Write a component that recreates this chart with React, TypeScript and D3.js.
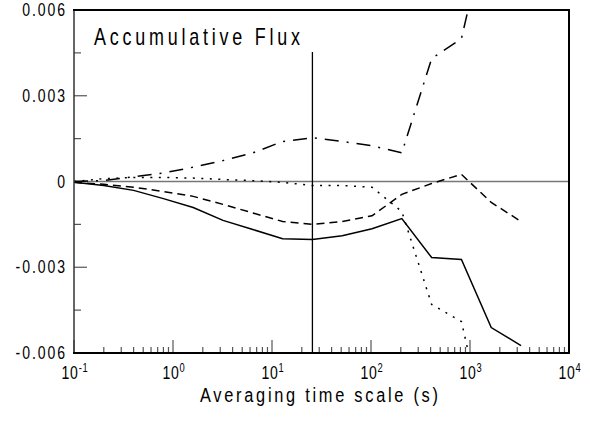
import React, { useEffect, useRef } from 'react';
import * as d3 from 'd3';

// averaging time scales (s), doubling from 0.1 s
const timeScales = [0.1, 0.2, 0.4, 0.8, 1.6, 3.2, 6.4, 12.8, 25.6, 51.2, 102.4, 204.8, 409.6, 819.2, 1638.4, 3276.8];

const solidFlux = [-0.00003, -0.00014, -0.00031, -0.0006, -0.00091, -0.00136, -0.00168, -0.002, -0.00203, -0.0019, -0.00165, -0.0013, -0.00266, -0.00273, -0.00511, -0.00574];
const dashedFlux = [-0.00003, -0.0001, -0.0002, -0.00035, -0.00052, -0.0008, -0.0011, -0.0014, -0.0015, -0.0014, -0.0012, -0.00045, -0.00007, 0.00025, -0.00073, -0.0014];
const dottedFlux = [0, 0.0001, 0.00014, 0.00014, 0.00012, 0.00007, 0.00003, -0.00003, -0.00014, -0.00014, -0.0002, -0.00105, -0.0043, -0.0049, -0.0095];
const dashDotFlux = [0, 0.00003, 0.00017, 0.0003, 0.0005, 0.00073, 0.001, 0.0014, 0.00153, 0.0014, 0.00125, 0.001, 0.0043, 0.005, 0.0095];

const yTicks = [0.006, 0.003, 0, -0.003, -0.006];
const yTickLabels = ['0.006', '0.003', '0', '-0.003', '-0.006'];
const xDecades = [-1, 0, 1, 2, 3, 4];
const markerTime = 25.6;

const FONT = "'Liberation Sans', Arial, sans-serif";
const SQUEEZE = 0.78; // the original font is tall and narrow

export default function App() {
  const ref = useRef<SVGSVGElement>(null);

  useEffect(() => {
    const svg = d3.select(ref.current);
    svg.selectAll('*').remove();

    const x = d3.scaleLog().domain([0.1, 1e4]).range([74, 569]);
    const y = d3.scaleLinear().domain([-0.006, 0.006]).range([353, 10]);

    // narrow text: drawn in a horizontally squeezed group
    const label = (px: number, py: number, size: number, anchor: string, spacing = 0) =>
      svg.append('g').attr('transform', `translate(${px},${py}) scale(${SQUEEZE},1)`)
        .append('text').attr('text-anchor', anchor).attr('font-family', FONT)
        .attr('font-size', size).attr('letter-spacing', spacing).attr('fill', '#000');

    svg.append('defs').append('clipPath').attr('id', 'plotClip')
      .append('rect').attr('x', 74).attr('y', 10).attr('width', 495).attr('height', 343);

    // minor / major ticks on x (pointing up from bottom)
    const xt = svg.append('g');
    for (let d = -1; d < 4; d++) {
      for (let m = 2; m <= 9; m++) {
        const v = m * Math.pow(10, d);
        xt.append('line').attr('x1', x(v)).attr('x2', x(v)).attr('y1', 353).attr('y2', 347)
          .attr('stroke', '#555').attr('stroke-width', 1.2);
      }
    }
    xDecades.forEach((e) => {
      const v = Math.pow(10, e);
      xt.append('line').attr('x1', x(v)).attr('x2', x(v)).attr('y1', 353).attr('y2', 340)
        .attr('stroke', '#555').attr('stroke-width', 1.2);
      const t = label(x(v) + 1, 379, 18, 'middle', 1);
      t.append('tspan').text('10');
      t.append('tspan').attr('dy', -7).attr('font-size', 12).text(String(e));
    });

    // y ticks (pointing right from left axis)
    const yt = svg.append('g');
    d3.range(-0.006, 0.0061, 0.0015).forEach((v) => {
      const major = Math.abs(Math.round(v / 0.0015)) % 2 === 0;
      yt.append('line').attr('x1', 74).attr('x2', 74 + (major ? 13 : 7)).attr('y1', y(v)).attr('y2', y(v))
        .attr('stroke', '#555').attr('stroke-width', 1.2);
    });
    yTicks.forEach((v, i) => {
      label(67, y(v) + 6, 18, 'end', 2.5).text(yTickLabels[i]);
    });

    // zero line and marker line
    svg.append('line').attr('x1', 74).attr('x2', 569).attr('y1', y(0)).attr('y2', y(0))
      .attr('stroke', '#777').attr('stroke-width', 1.5);
    svg.append('line').attr('x1', x(markerTime)).attr('x2', x(markerTime)).attr('y1', 52).attr('y2', 353)
      .attr('stroke', '#000').attr('stroke-width', 1.3);

    // series
    const line = d3.line<[number, number]>().x((d) => x(d[0])).y((d) => y(d[1]));
    const series = [
      { values: solidFlux, dash: null },
      { values: dashedFlux, dash: '8,5' },
      { values: dottedFlux, dash: '2,6.5' },
      { values: dashDotFlux, dash: '14,8,2,8' },
    ];
    const lines = svg.append('g').attr('clip-path', 'url(#plotClip)');
    series.forEach((s) => {
      const pts = s.values.map((v, i) => [timeScales[i], v] as [number, number]);
      lines.append('path').attr('d', line(pts)).attr('fill', 'none').attr('stroke', '#000')
        .attr('stroke-width', 1.5).attr('stroke-dasharray', s.dash);
    });

    // frame
    svg.append('line').attr('x1', 74).attr('x2', 74).attr('y1', 10).attr('y2', 354)
      .attr('stroke', '#333').attr('stroke-width', 1.5);
    svg.append('line').attr('x1', 73).attr('x2', 570).attr('y1', 10).attr('y2', 10)
      .attr('stroke', '#000').attr('stroke-width', 2);
    svg.append('line').attr('x1', 569).attr('x2', 569).attr('y1', 10).attr('y2', 354)
      .attr('stroke', '#000').attr('stroke-width', 2);
    svg.append('line').attr('x1', 73).attr('x2', 570).attr('y1', 353).attr('y2', 353)
      .attr('stroke', '#000').attr('stroke-width', 2);

    // titles
    label(94, 45, 23, 'start').attr('textLength', 206 / SQUEEZE).attr('lengthAdjust', 'spacing')
      .text('Accumulative Flux');
    label(200, 402, 21, 'start').attr('textLength', 238 / SQUEEZE).attr('lengthAdjust', 'spacing')
      .text('Averaging time scale (s)');
  }, []);

  return (
    <svg ref={ref} width={590} height={423} style={{ position: 'absolute', left: 0, top: 0, background: '#fff' }} />
  );
}
